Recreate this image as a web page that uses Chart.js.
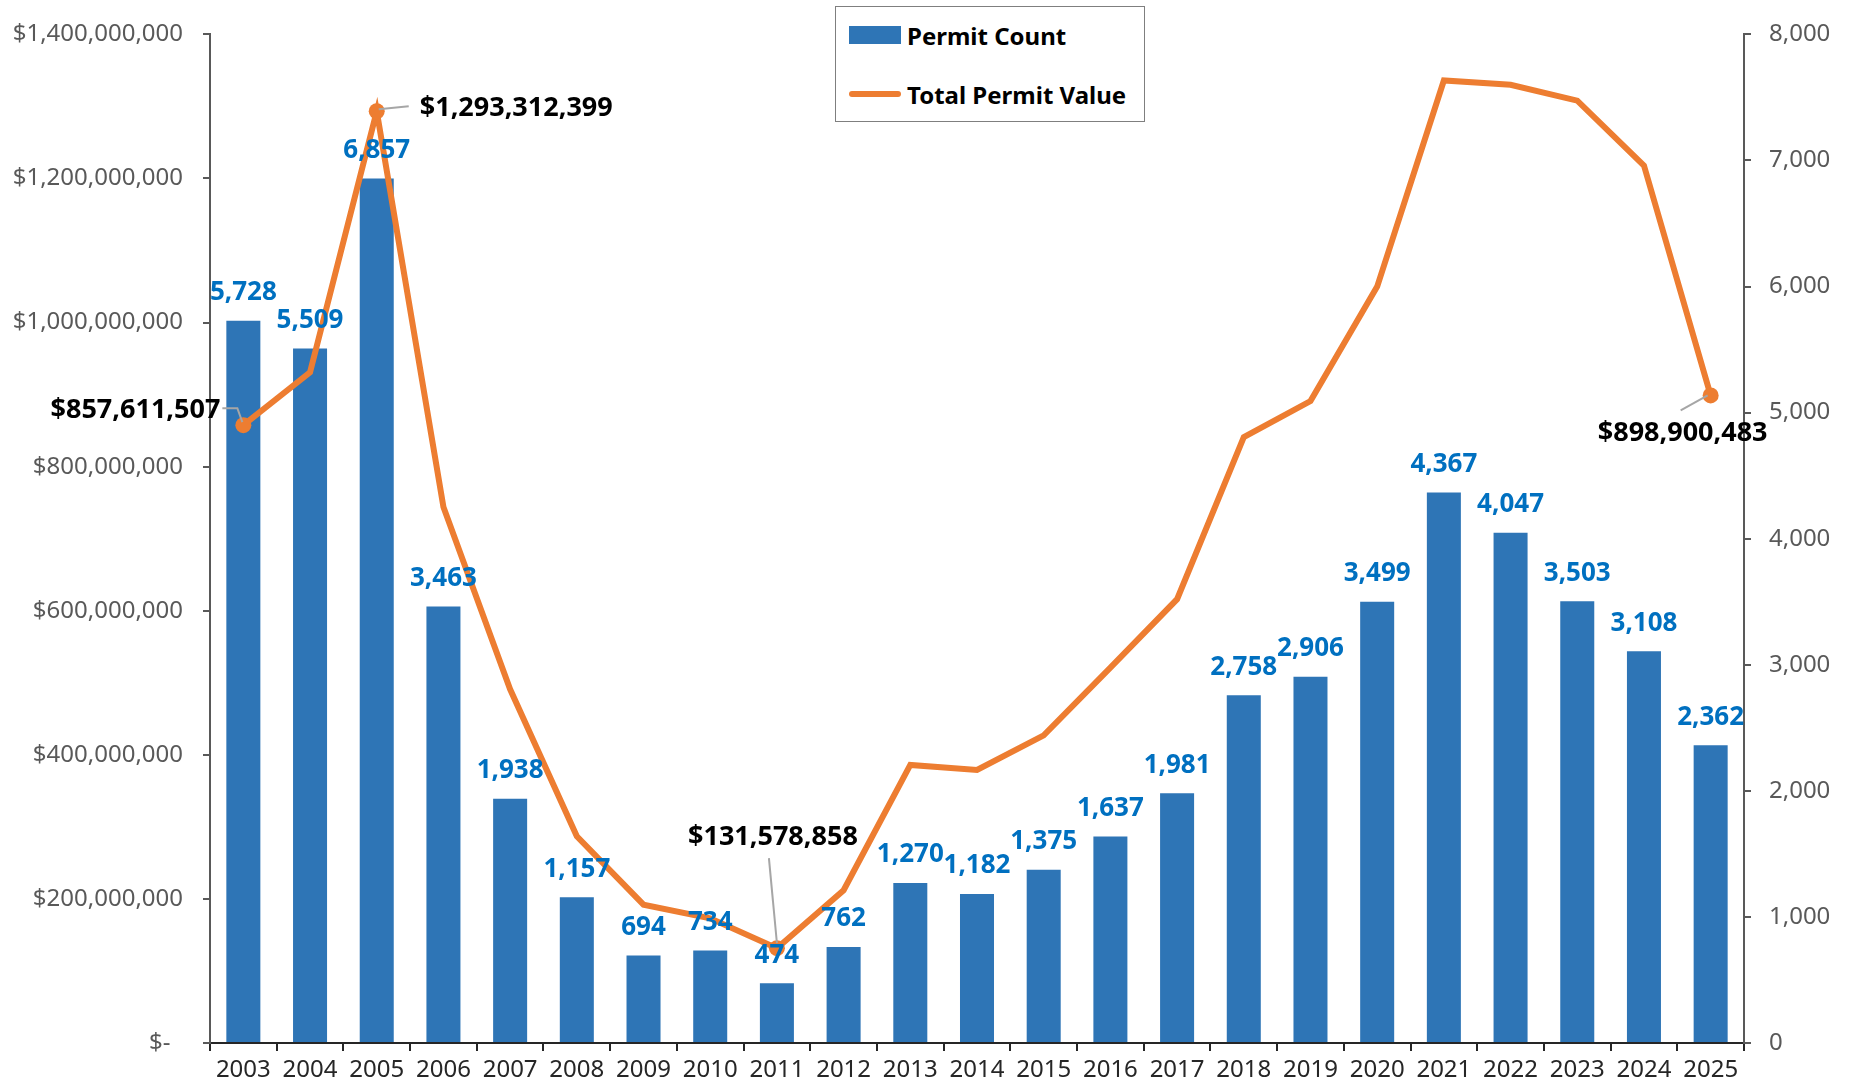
<!DOCTYPE html>
<html>
<head>
<meta charset="utf-8">
<script src="https://cdn.jsdelivr.net/npm/chart.js@4"></script>
<style>
  body { margin: 0; background: #fff; }
  #wrap { position: relative; width: 1850px; height: 1081px; }
  #legend {
    position: absolute; left: 835px; top: 6px; width: 308px; height: 114px;
    border: 1px solid #7f7f7f; background: #fff;
    font-family: "Noto Sans"; font-weight: bold; font-size: 24px; color: #000;
  }
  .row { position: absolute; left: 13px; height: 30px; display: flex; align-items: center; }
  .swatch { width: 52px; height: 18px; background: #2E75B6; margin-right: 6px; }
  .lineKey { width: 52px; height: 6px; border-radius: 3px; background: #ED7D31; margin-right: 6px; }
</style>
</head>
<body>
<div id="wrap">
  <canvas id="myChart" width="1850" height="1081"></canvas>
  <div id="legend">
    <div class="row" style="top:13px"><div class="swatch"></div>Permit Count</div>
    <div class="row" style="top:72px"><div class="lineKey"></div>Total Permit Value</div>
  </div>
</div>
<script>
const years = ["2003","2004","2005","2006","2007","2008","2009","2010","2011","2012","2013","2014",
  "2015","2016","2017","2018","2019","2020","2021","2022","2023","2024","2025"];
const permitCount = [5728,5509,6857,3463,1938,1157,694,734,474,762,1270,1182,
  1375,1637,1981,2758,2906,3499,4367,4047,3503,3108,2362];
// total permit value in dollars (unlabelled years)
const permitValue = [857611507,931000000,1293312399,744000000,491000000,287000000,192000000,173000000,
  131578858,212000000,386000000,379000000,427000000,521000000,616000000,841000000,891000000,
  1050000000,1336000000,1330000000,1308000000,1218000000,898900483];
const leftTicks = [0,200000000,400000000,600000000,800000000,1000000000,1200000000,1400000000];
const rightTicks = [0,1000,2000,3000,4000,5000,6000,7000,8000];
const labelled = [0, 2, 8, 22];

// where each value callout sits relative to its point, plus its leader line
const callouts = {
  0:  { dx: -23, dy: -15, align: 'right',  lead: [[-21,-17],[-6,-17],[-1,-3]] },
  2:  { dx: 43,  dy: -3,  align: 'left',   lead: [[2,-2],[32,-5]] },
  8:  { dx: -4,  dy: -111, align: 'center', lead: [[-8,-90],[0,-5]] },
  22: { dx: -28, dy: 38,  align: 'center', lead: [[-30,15],[-3,0]] }
};

const fmt = v => v.toLocaleString('en-US');

const labelPlugin = {
  id: 'valueLabels',
  afterDatasetsDraw(chart) {
    const ctx = chart.ctx;
    ctx.save();
    ctx.font = 'bold 26px "Noto Sans"';
    ctx.textAlign = 'center';
    ctx.textBaseline = 'middle';
    ctx.fillStyle = '#0070C0';
    chart.getDatasetMeta(0).data.forEach((b, i) => {
      ctx.fillText(fmt(permitCount[i]), b.x, b.y - 28);
    });
    const pts = chart.getDatasetMeta(1).data;
    ctx.font = 'bold 27px "Noto Sans"';
    labelled.forEach(i => {
      const c = callouts[i], p = pts[i];
      ctx.strokeStyle = '#a6a6a6';
      ctx.lineWidth = 2;
      ctx.beginPath();
      c.lead.forEach((q, k) => k ? ctx.lineTo(p.x + q[0], p.y + q[1]) : ctx.moveTo(p.x + q[0], p.y + q[1]));
      ctx.stroke();
      ctx.fillStyle = '#000';
      ctx.textAlign = c.align;
      ctx.fillText('$' + fmt(permitValue[i]), p.x + c.dx, p.y + c.dy);
    });
    ctx.restore();
  }
};

new Chart("myChart", {
  type: "bar",
  data: {
    labels: years,
    datasets: [{
      type: 'bar',
      label: 'Permit Count',
      data: permitCount,
      yAxisID: 'y1',
      backgroundColor: '#2E75B6',
      barPercentage: 0.51,
      categoryPercentage: 1.0,
      order: 1
    }, {
      type: 'line',
      label: 'Total Permit Value',
      data: permitValue,
      yAxisID: 'y',
      borderColor: '#ED7D31',
      backgroundColor: '#ED7D31',
      borderWidth: 6,
      tension: 0,
      pointRadius: years.map((y, i) => labelled.includes(i) ? 8 : 0),
      pointBackgroundColor: '#ED7D31',
      pointBorderWidth: 0,
      order: 0
    }]
  },
  options: {
    responsive: false,
    animation: false,
    layout: { padding: { top: 28, left: 0, right: 0, bottom: 0 } },
    plugins: { legend: { display: false }, tooltip: { enabled: false } },
    scales: {
      x: {
        offset: true,
        grid: { offset: true, drawOnChartArea: false, tickLength: 8, color: '#262626', lineWidth: 2 },
        border: { color: '#262626', width: 2 },
        ticks: { color: '#262626', font: { family: 'Noto Sans', size: 24 }, padding: 5, maxRotation: 0 },
        afterFit: s => { s.height = 38; }
      },
      y: {
        position: 'left',
        min: 0, max: 1400000000,
        afterBuildTicks: s => { s.ticks = leftTicks.map(v => ({ value: v })); },
        grid: { drawOnChartArea: false, tickLength: 7, color: '#595959', lineWidth: 2 },
        border: { color: '#595959', width: 2 },
        ticks: {
          color: '#595959', font: { family: 'Noto Sans', size: 24 }, padding: 20,
          callback: v => v === 0 ? '$-  ' : '$' + fmt(v)
        },
        afterFit: s => { s.width = 210; }
      },
      y1: {
        position: 'right',
        min: 0, max: 8000,
        afterBuildTicks: s => { s.ticks = rightTicks.map(v => ({ value: v })); },
        grid: { drawOnChartArea: false, tickLength: 7, color: '#595959', lineWidth: 2 },
        border: { color: '#595959', width: 2 },
        ticks: {
          color: '#595959', font: { family: 'Noto Sans', size: 24 }, padding: 18,
          callback: v => fmt(v)
        },
        afterFit: s => { s.width = 106; }
      }
    }
  },
  plugins: [labelPlugin]
});
</script>
</body>
</html>
